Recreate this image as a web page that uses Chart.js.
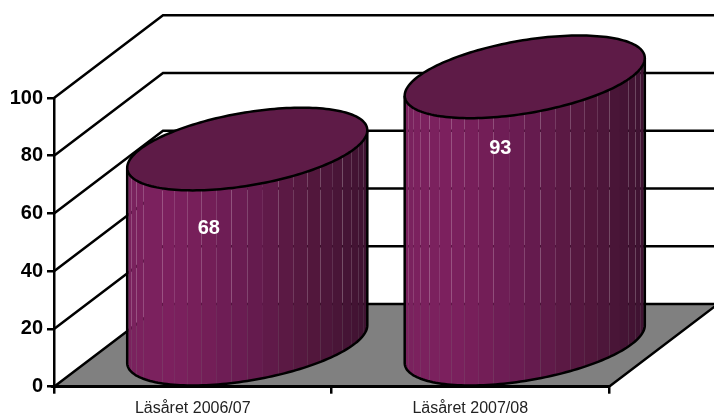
<!DOCTYPE html>
<html lang="sv">
<head>
  <meta charset="UTF-8" />
  <title>Läsåret</title>
  <script src="https://cdn.jsdelivr.net/npm/chart.js"></script>
  <style>
    html, body { margin: 0; padding: 0; background: #fff; }
    canvas { display: block; }
  </style>
</head>
<body>
  <canvas id="cylChart" width="714" height="414"></canvas>

  <script>
    const categories = ['Läsåret 2006/07', 'Läsåret 2007/08'];
    const values = [68, 93];
    const yTicks = [0, 20, 40, 60, 80, 100];

    // depth of the fake 3D box, in pixels
    const depthX = 109;
    const depthY = 82.7;
    const facets = 24;
    const labelOffsets = [[16, 38], [30, 30]];
    const fontName = '"Liberation Sans", Arial, sans-serif';
    const lineW = 2.5;

    // horizontal shading across the cylinder, left to right
    function shade(f) {
      const stops = [[0, [122, 34, 94]], [0.2, [124, 32, 94]], [0.5, [104, 28, 80]], [0.75, [84, 24, 62]], [1, [62, 18, 48]]];
      for (let i = 1; i < stops.length; i++) {
        if (f <= stops[i][0]) {
          const a = stops[i - 1], b = stops[i];
          const k = (f - a[0]) / (b[0] - a[0]);
          const c = a[1].map((v, n) => Math.round(v + (b[1][n] - v) * k));
          return 'rgb(' + c.join(',') + ')';
        }
      }
      return 'rgb(62,18,48)';
    }

    const boxPlugin = {
      id: 'box',
      beforeDraw(chart) {
        const ctx = chart.ctx;
        const area = chart.chartArea;
        const y = chart.scales.y;
        const y0 = y.getPixelForValue(0);
        const backRight = chart.width;
        const frontBack = area.right + depthX;

        ctx.save();
        ctx.lineWidth = lineW;
        ctx.strokeStyle = '#000';
        ctx.lineJoin = 'miter';

        // floor
        ctx.beginPath();
        ctx.moveTo(area.left, y0);
        ctx.lineTo(area.left + depthX, y0 - depthY);
        ctx.lineTo(frontBack, y0 - depthY);
        ctx.lineTo(area.right, y0);
        ctx.closePath();
        ctx.fillStyle = '#808080';
        ctx.fill();
        ctx.stroke();

        // grid lines, side wall and back wall
        yTicks.forEach(function (t) {
          if (t === 0) return;
          const p = y.getPixelForValue(t);
          ctx.beginPath();
          ctx.moveTo(area.left, p);
          ctx.lineTo(area.left + depthX, p - depthY);
          ctx.lineTo(backRight, p - depthY);
          ctx.stroke();
        });
        ctx.restore();
      },
      afterDatasetsDraw(chart) {
        const ctx = chart.ctx;
        const bars = chart.getDatasetMeta(0).data;
        const dx = depthX / 2;
        const dy = depthY / 2;

        bars.forEach(function (bar, i) {
          const rx = bar.width / 2;
          const halfW = Math.sqrt(rx * rx + dx * dx);
          const cx = bar.x + dx;
          const topY = bar.y - dy;
          const botY = bar.base - dy;
          const t0 = Math.atan2(dx, rx);
          const px = function (t) { return cx + rx * Math.cos(t) + dx * Math.sin(t); };
          const py = function (t, c) { return c - dy * Math.sin(t); };

          // side of the cylinder, one quad per facet
          for (let n = 0; n < facets; n++) {
            const a = t0 + Math.PI + Math.PI * n / facets;
            const b = t0 + Math.PI + Math.PI * (n + 1) / facets;
            ctx.beginPath();
            ctx.moveTo(px(a), py(a, topY));
            ctx.lineTo(px(b), py(b, topY));
            ctx.lineTo(px(b), py(b, botY));
            ctx.lineTo(px(a), py(a, botY));
            ctx.closePath();
            ctx.fillStyle = shade((((px(a) + px(b)) / 2) - (cx - halfW)) / (2 * halfW));
            ctx.fill();
          }

          // outline of the side
          ctx.lineWidth = lineW;
          ctx.strokeStyle = '#000';
          ctx.beginPath();
          ctx.moveTo(px(t0 + Math.PI), py(t0 + Math.PI, topY));
          for (let n = 0; n <= 90; n++) {
            const t = t0 + Math.PI + Math.PI * n / 90;
            ctx.lineTo(px(t), py(t, botY));
          }
          ctx.lineTo(px(t0), py(t0, topY));
          ctx.stroke();

          // top ellipse
          ctx.beginPath();
          for (let n = 0; n <= 180; n++) {
            const t = Math.PI * 2 * n / 180;
            if (n === 0) ctx.moveTo(px(t), py(t, topY));
            else ctx.lineTo(px(t), py(t, topY));
          }
          ctx.closePath();
          ctx.fillStyle = '#5e1b47';
          ctx.fill();
          ctx.stroke();

          // value label
          ctx.fillStyle = '#fff';
          ctx.font = 'bold 20px ' + fontName;
          ctx.textAlign = 'center';
          ctx.textBaseline = 'middle';
          ctx.fillText(String(values[i]), bar.x + labelOffsets[i][0], bar.y + labelOffsets[i][1]);
        });
      }
    };

    new Chart(document.getElementById('cylChart').getContext('2d'), {
      type: 'bar',
      data: {
        labels: categories,
        datasets: [{
          data: values,
          backgroundColor: 'transparent',
          categoryPercentage: 1,
          barPercentage: 0.771
        }]
      },
      plugins: [boxPlugin],
      options: {
        responsive: false,
        animation: false,
        layout: { padding: { top: 98, right: 105, left: 0, bottom: 0 } },
        plugins: { legend: { display: false }, tooltip: { enabled: false } },
        scales: {
          x: {
            afterFit(scale) { scale.height = 27.3; },
            border: { color: '#000', width: lineW },
            grid: { drawOnChartArea: false, color: '#000', lineWidth: lineW, tickLength: 7 },
            ticks: { color: '#222', padding: 5, maxRotation: 0, font: { family: fontName, size: 16 } }
          },
          y: {
            min: 0,
            max: 100,
            afterFit(scale) { scale.width = 54; },
            afterBuildTicks(scale) { scale.ticks = yTicks.map(function (v) { return { value: v }; }); },
            border: { color: '#000', width: lineW },
            grid: { drawOnChartArea: false, color: '#000', lineWidth: lineW, tickLength: 7 },
            ticks: { color: '#000', padding: 4, font: { family: fontName, size: 20, weight: 'bold' } }
          }
        }
      }
    });
  </script>
</body>
</html>
